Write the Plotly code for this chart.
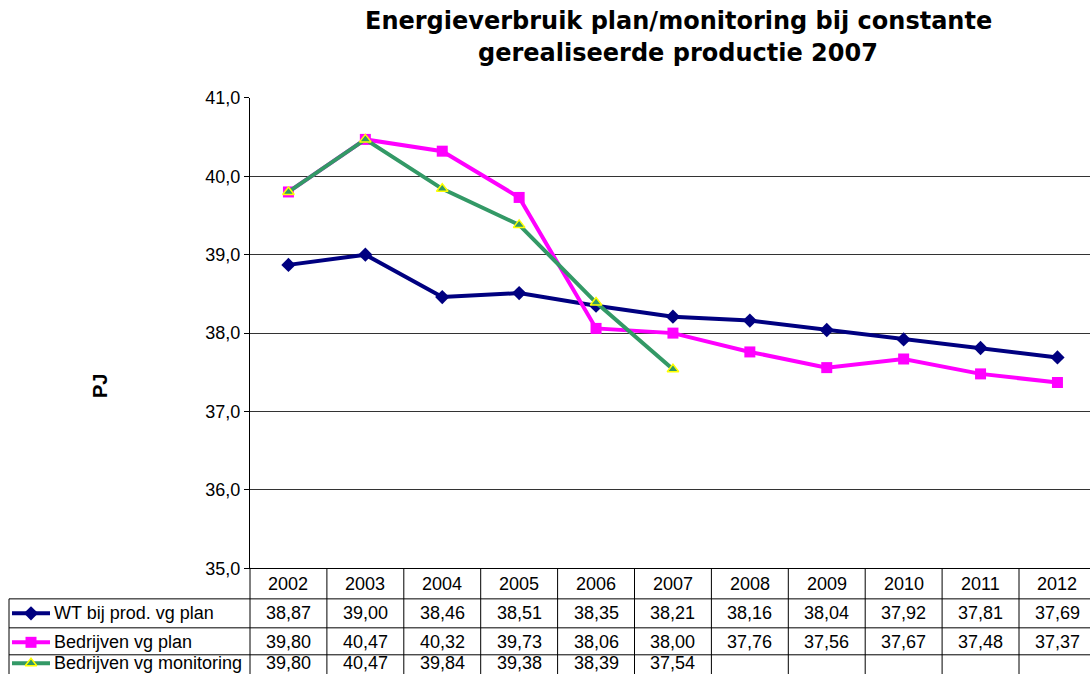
import plotly.graph_objects as go

years = ['2002', '2003', '2004', '2005', '2006', '2007', '2008', '2009', '2010', '2011', '2012']
wt_plan = [38.87, 39.00, 38.46, 38.51, 38.35, 38.21, 38.16, 38.04, 37.92, 37.81, 37.69]
bedr_plan = [39.80, 40.47, 40.32, 39.73, 38.06, 38.00, 37.76, 37.56, 37.67, 37.48, 37.37]
bedr_monitoring = [39.80, 40.47, 39.84, 39.38, 38.39, 37.54]
series_names = ['WT bij prod. vg plan', 'Bedrijven vg plan', 'Bedrijven vg monitoring']

W, H = 1090, 684
# vertical compensation observed for the capture pipeline
VS, VO = 0.9717, 8.57
def Y(y):
    return (y - VO) / VS
def px(x):
    return x / W
def py(y):
    return 1 - Y(y) / H

NAVY = '#000080'
MAG = '#FF00FF'
GREEN = '#339966'
YEL = '#FFFF00'
FONT = 'Arial, Liberation Sans, sans-serif'
FS = 18

styles = [
    dict(color=NAVY, symbol='diamond', size=11, lc=NAVY, lw=0),
    dict(color=MAG, symbol='square', size=11, lc=MAG, lw=0),
    dict(color=GREEN, symbol='triangle-up', size=10, lc=YEL, lw=1.5),
]
data = [wt_plan, bedr_plan, bedr_monitoring]

fig = go.Figure()
for name, vals, st in zip(series_names, data, styles):
    fig.add_trace(go.Scatter(
        x=years[:len(vals)], y=vals, mode='lines+markers', name=name,
        line=dict(color=st['color'], width=4),
        marker=dict(symbol=st['symbol'], size=st['size'], color=st['color'],
                    line=dict(color=st['lc'], width=st['lw'])),
        xaxis='x', yaxis='y', cliponaxis=False, showlegend=False))

# table row centres (target pixels); last row nudged up to stay inside the page
row_centres = [612.5, 641.5, 662.5]
for i, st in enumerate(styles):
    yc = Y(row_centres[i])
    fig.add_trace(go.Scatter(
        x=[12, 50], y=[yc, yc], mode='lines', line=dict(color=st['color'], width=4),
        xaxis='x2', yaxis='y2', showlegend=False, hoverinfo='skip'))
    fig.add_trace(go.Scatter(
        x=[31], y=[yc], mode='markers',
        marker=dict(symbol=st['symbol'], size=st['size'], color=st['color'],
                    line=dict(color=st['lc'], width=st['lw'])),
        xaxis='x2', yaxis='y2', showlegend=False, hoverinfo='skip'))

x0_px, y_top_px, y_bot_px = 250, 96.5, 567.5
cat_w = 76.9
xr_end = -0.5 + (W - x0_px) / cat_w

shapes = []
annotations = []
LINE = dict(color='black', width=1)
for yy in [598, 627, 654]:
    shapes.append(dict(type='line', xref='paper', yref='paper', x0=px(9), x1=1, y0=py(yy), y1=py(yy), line=LINE))
shapes.append(dict(type='line', xref='paper', yref='paper', x0=px(9), x1=px(9), y0=py(598), y1=0, line=LINE))
shapes.append(dict(type='line', xref='paper', yref='paper', x0=px(250), x1=px(250), y0=py(567), y1=0, line=LINE))
for i in range(1, len(years) + 1):
    shapes.append(dict(type='line', xref='x', yref='paper', x0=i - 0.5, x1=i - 0.5, y0=py(568), y1=0, line=LINE))

def txt(x, y, text, xref='paper', xanchor='center', **kw):
    d = dict(x=x, y=y, xref=xref, yref='paper', text=text, showarrow=False,
             xanchor=xanchor, yanchor='middle', font=dict(family=FONT, size=FS, color='black'))
    d.update(kw)
    return d

for i, yr in enumerate(years):
    annotations.append(txt(i, py(583.5), yr, xref='x'))
for r, (name, vals) in enumerate(zip(series_names, data)):
    yc = row_centres[r]
    annotations.append(txt(px(52), py(yc), name, xanchor='left'))
    for i, v in enumerate(vals):
        annotations.append(txt(i, py(yc), f"{v:.2f}".replace('.', ','), xref='x'))

annotations.append(txt(px(100), py(385), '<b>PJ</b>', textangle=-90,
                       font=dict(family=FONT, size=20, color='black')))
TFONT = dict(family='Verdana, DejaVu Sans, sans-serif', size=24, color='black')
annotations.append(txt(px(678), py(20), '<b>Energieverbruik plan/monitoring bij constante</b>', font=TFONT))
annotations.append(txt(px(678), py(52), '<b>gerealiseerde productie 2007</b>', font=TFONT))

fig.update_layout(
    width=W, height=H, margin=dict(l=0, r=0, t=0, b=0),
    paper_bgcolor='white', plot_bgcolor='rgba(0,0,0,0)', separators=',.',
    font=dict(family=FONT, size=FS, color='black'),
    xaxis=dict(type='category', domain=[px(x0_px), 1], range=[-0.5, xr_end], showgrid=False,
               showticklabels=False, ticks='', showline=True, linecolor='black', linewidth=1,
               zeroline=False, anchor='y', fixedrange=True),
    yaxis=dict(domain=[py(y_bot_px), py(y_top_px)], range=[35, 41], dtick=1, tickformat='.1f',
               showgrid=True, gridcolor='#333', gridwidth=1, showline=True, linecolor='black',
               linewidth=1, ticks='outside', ticklen=5, tickcolor='black', zeroline=False,
               tickfont=dict(family=FONT, size=FS, color='black'), anchor='x'),
    xaxis2=dict(domain=[0, 1], range=[0, W], visible=False, anchor='y2'),
    yaxis2=dict(domain=[0, 1], range=[H, 0], visible=False, anchor='x2'),
    shapes=shapes, annotations=annotations,
)

fig.write_html('out.html', config={'displayModeBar': False},
               post_script="document.body.style.margin='0';document.body.style.overflow='hidden';")
